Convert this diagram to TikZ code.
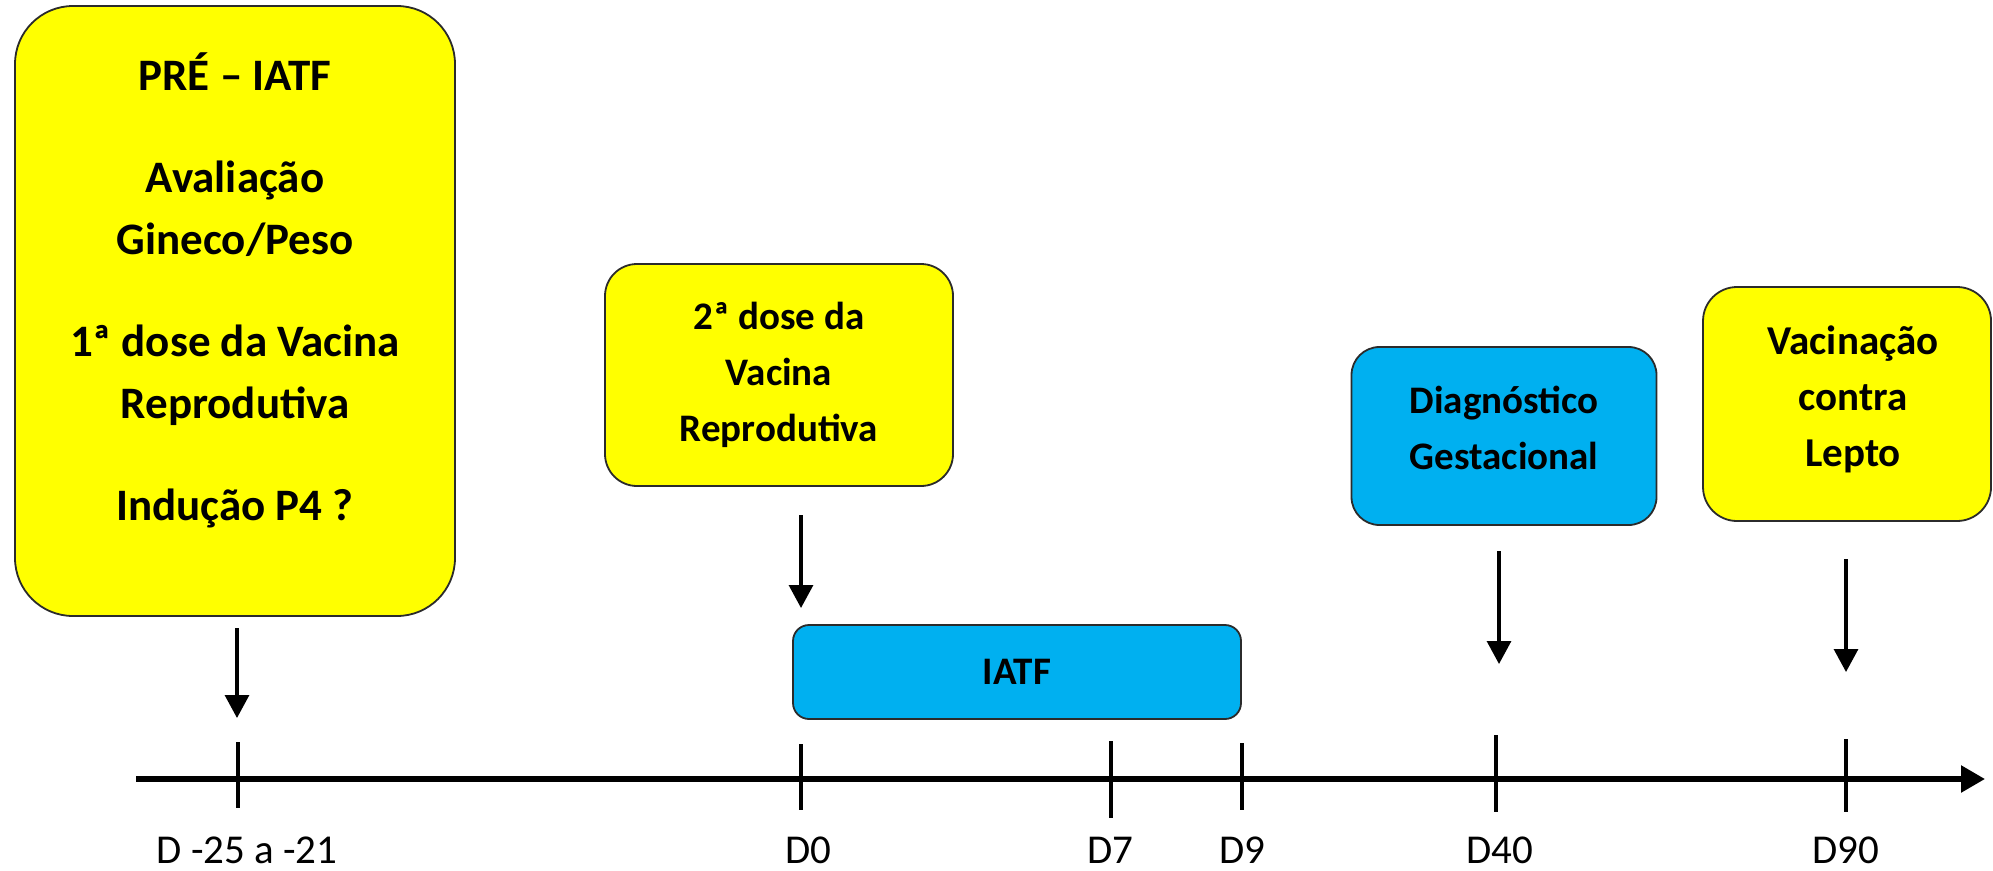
\documentclass[tikz,border=0pt]{standalone}
\usepackage{fontspec}
\setmainfont{Carlito}
\usetikzlibrary{arrows.meta}
\definecolor{ybox}{HTML}{FFFF00}
\definecolor{bbox}{HTML}{00B0F0}
\definecolor{edgec}{HTML}{2B2B2B}
\tikzset{
  boxbase/.style={draw=edgec, line width=1.8pt, inner sep=0pt, align=center,
    font=\fontsize{39}{56}\selectfont\bfseries},
  yelbox/.style={boxbase, fill=ybox},
  blubox/.style={boxbase, fill=bbox},
  boxtext/.style={inner sep=0pt, align=center},
  downarrow/.style={line width=3.2pt, -{Triangle[width=24pt,length=23pt]}},
  axisline/.style={line width=5.5pt, -{Triangle[width=26pt,length=24pt]}},
  tickmark/.style={line width=4.5pt},
  daylabel/.style={inner sep=0pt, anchor=base, font=\fontsize{41}{48}\selectfont},
}
\begin{document}
\begin{tikzpicture}[x=1pt,y=-1pt]
\useasboundingbox (0,0) rectangle (1993,870);

% boxes
\node[yelbox, rounded corners=58pt, minimum width=440pt, minimum height=610pt] (pre) at (235,311) {};
\node[boxtext, font=\fontsize{45}{62}\selectfont\bfseries] (pretext) at (235,290)
  {PRÉ – IATF\\[40pt] Avaliação\\ Gineco/Peso\\[40pt] 1ª dose da Vacina\\ Reprodutiva\\[40pt] Indução P4 ?};

\node[yelbox, rounded corners=32pt, minimum width=348pt, minimum height=222pt] (dose2) at (779,375)
  {2ª dose da\\ Vacina\\ Reprodutiva};

\node[blubox, rounded corners=16pt, minimum width=448pt, minimum height=94pt] (iatf) at (1017,672) {IATF};

\node[blubox, rounded corners=28pt, minimum width=305pt, minimum height=178pt] (diag) at (1504,436) {};
\node[boxtext, font=\fontsize{39}{56}\selectfont\bfseries] (diagtext) at (1504,428)
  {Diagnóstico\\ Gestacional};

\node[yelbox, rounded corners=34pt, minimum width=288pt, minimum height=234pt] (vac) at (1847,404) {};
\node[boxtext, font=\fontsize{41}{56}\selectfont\bfseries] (vactext) at (1853,399)
  {Vacinação\\ contra\\ Lepto};

% axis
\coordinate (axstart) at (136,779);
\coordinate (axend) at (1985,779);
\draw[axisline] (axstart) -- (axend);

% ticks
\coordinate (t1a) at (238,742); \coordinate (t1b) at (238,808);
\coordinate (t2a) at (801,744); \coordinate (t2b) at (801,810);
\coordinate (t3a) at (1111,741); \coordinate (t3b) at (1111,818);
\coordinate (t4a) at (1242,743); \coordinate (t4b) at (1242,810);
\coordinate (t5a) at (1496,735); \coordinate (t5b) at (1496,812);
\coordinate (t6a) at (1846,739); \coordinate (t6b) at (1846,812);
\draw[tickmark] (t1a) -- (t1b);
\draw[tickmark] (t2a) -- (t2b);
\draw[tickmark] (t3a) -- (t3b);
\draw[tickmark] (t4a) -- (t4b);
\draw[tickmark] (t5a) -- (t5b);
\draw[tickmark] (t6a) -- (t6b);

% labels
\node[daylabel] (l1) at (247,863) {D -25 a -21};
\node[daylabel] (l2) at (808,863) {D0};
\node[daylabel] (l3) at (1110,863) {D7};
\node[daylabel] (l4) at (1242,863) {D9};
\node[daylabel] (l5) at (1500,863) {D40};
\node[daylabel] (l6) at (1846,863) {D90};

% arrows
\coordinate (a1s) at (237,628); \coordinate (a1e) at (237,718);
\coordinate (a2s) at (801,515); \coordinate (a2e) at (801,608);
\coordinate (a3s) at (1499,551); \coordinate (a3e) at (1499,664);
\coordinate (a4s) at (1846,559); \coordinate (a4e) at (1846,672);
\draw[downarrow] (a1s) -- (a1e);
\draw[downarrow] (a2s) -- (a2e);
\draw[downarrow] (a3s) -- (a3e);
\draw[downarrow] (a4s) -- (a4e);
\end{tikzpicture}
\end{document}
